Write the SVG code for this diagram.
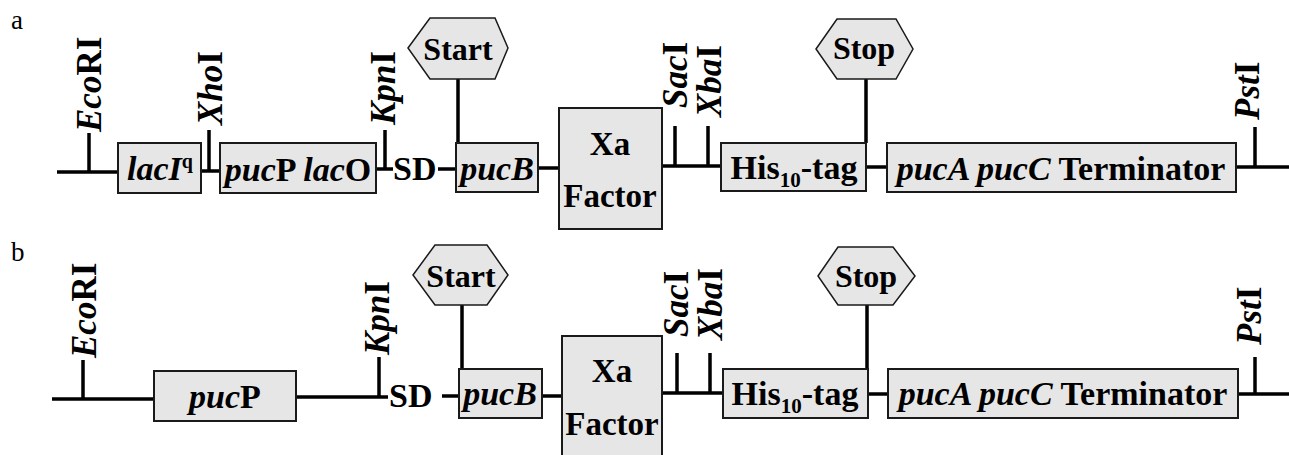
<svg xmlns="http://www.w3.org/2000/svg" width="1289" height="455" viewBox="0 0 1289 455" font-family="'Liberation Serif', 'DejaVu Serif', serif">
<style>
text{font-family:'Liberation Serif','DejaVu Serif',serif;font-weight:bold;fill:#000}
.t{font-size:34px}
.r{font-size:35px}
.x{font-size:33px;text-anchor:middle}
.m{text-anchor:middle}
.i{font-style:italic}
.hx{font-size:32px;text-anchor:middle}
text.pl{font-size:27px;font-weight:normal}
.box{fill:#e6e6e6;stroke:#1a1a1a;stroke-width:2}
.hex{fill:#e6e6e6;stroke:#1a1a1a;stroke-width:1.5}
.ln{stroke:#000;stroke-width:3.5;fill:none}
</style>
<rect width="1289" height="455" fill="#fff"/>
<text class="pl" x="11" y="29">a</text>
<text class="pl" x="11" y="261">b</text>

<g id="connectors">
<path class="ln" d="M57,172H118 M89,172V133 M201,171H220 M209,171V130 M376,169H393 M385,169V130 M438,169H456 M538,168H559 M662,166H721 M675,166V126 M708,166V126 M866,167H887 M1236,167H1289 M1255,167V127 M458,79V143 M866,79V143"/>
<path class="ln" d="M52,399H154 M83,399V360 M296,397H388 M379,397V357 M442,396H459 M542,396H562 M662,393H723 M677,393V353 M710,393V353 M868,394H888 M1238,394H1289 M1255,394V357 M462,305V369 M867,305V369"/>
</g>

<g id="a-EcoRI"><text class="r" transform="translate(101,132) rotate(-90)"><tspan class="i">Eco</tspan>RI</text></g>
<g id="a-XhoI"><text class="r" transform="translate(222,125) rotate(-90)"><tspan class="i">Xho</tspan>I</text></g>
<g id="a-KpnI"><text class="r" transform="translate(395,125) rotate(-90)"><tspan class="i">Kpn</tspan>I</text></g>
<g id="a-SacI"><text class="r" transform="translate(687,108) rotate(-90)"><tspan class="i">Sac</tspan>I</text></g>
<g id="a-XbaI"><text class="r" transform="translate(721,117) rotate(-90)"><tspan class="i">Xba</tspan>I</text></g>
<g id="a-PstI"><text class="r" transform="translate(1259,120) rotate(-90)"><tspan class="i">Pst</tspan>I</text></g>

<g id="a-lacIq"><rect class="box" x="118" y="143" width="83" height="50"/><text class="t m" x="160" y="180"><tspan class="i">lacI</tspan><tspan font-size="20" dy="-12">q</tspan></text></g>
<g id="a-pucPlacO"><rect class="box" x="220" y="143" width="156" height="50"/><text class="t m" x="298" y="181"><tspan class="i">puc</tspan>P <tspan class="i">lac</tspan>O</text></g>
<g id="a-SD"><text class="t" x="393" y="180">SD</text></g>
<g id="a-pucB"><rect class="box" x="456" y="143" width="82" height="49"/><text class="t m i" x="497" y="180">pucB</text></g>
<g id="a-Xa"><rect class="box" x="559" y="108" width="103" height="121"/><text class="x" x="610" y="155">Xa</text><text class="x" x="610" y="207">Factor</text></g>
<g id="a-His"><rect class="box" x="721" y="143" width="145" height="48"/><text class="t m" x="794" y="179">His<tspan font-size="21" dy="8">10</tspan><tspan dy="-8">-tag</tspan></text></g>
<g id="a-pucA"><rect class="box" x="887" y="143" width="349" height="49"/><text class="t m" x="1061" y="180"><tspan class="i">pucA pucC</tspan> Terminator</text></g>
<g id="a-Start"><polygon class="hex" points="408,48 430,18 495,18 508,48 495,79 430,79"/><text class="hx" x="458" y="60">Start</text></g>
<g id="a-Stop"><polygon class="hex" points="816,49 837,19 896,19 913,49 896,79 837,79"/><text class="hx" x="864" y="59">Stop</text></g>

<g id="b-EcoRI"><text class="r" transform="translate(96,358) rotate(-90)"><tspan class="i">Eco</tspan>RI</text></g>
<g id="b-KpnI"><text class="r" transform="translate(389,355) rotate(-90)"><tspan class="i">Kpn</tspan>I</text></g>
<g id="b-SacI"><text class="r" transform="translate(688,337) rotate(-90)"><tspan class="i">Sac</tspan>I</text></g>
<g id="b-XbaI"><text class="r" transform="translate(722,340) rotate(-90)"><tspan class="i">Xba</tspan>I</text></g>
<g id="b-PstI"><text class="r" transform="translate(1261,345) rotate(-90)"><tspan class="i">Pst</tspan>I</text></g>

<g id="b-pucP"><rect class="box" x="154" y="371" width="142" height="50"/><text class="t m" x="225" y="408"><tspan class="i">puc</tspan>P</text></g>
<g id="b-SD"><text class="t" x="389" y="407">SD</text></g>
<g id="b-pucB"><rect class="box" x="459" y="369" width="83" height="49"/><text class="t m i" x="500" y="405">pucB</text></g>
<g id="b-Xa"><rect class="box" x="562" y="336" width="100" height="130"/><text class="x" x="612" y="382">Xa</text><text class="x" x="612" y="435">Factor</text></g>
<g id="b-His"><rect class="box" x="723" y="369" width="145" height="49"/><text class="t m" x="795" y="405">His<tspan font-size="21" dy="8">10</tspan><tspan dy="-8">-tag</tspan></text></g>
<g id="b-pucA"><rect class="box" x="888" y="369" width="350" height="49"/><text class="t m" x="1063" y="405"><tspan class="i">pucA pucC</tspan> Terminator</text></g>
<g id="b-Start"><polygon class="hex" points="413,275 435,245 487,245 508,275 487,305 435,305"/><text class="hx" x="461" y="287">Start</text></g>
<g id="b-Stop"><polygon class="hex" points="818,276 838,247 893,247 915,276 893,305 838,305"/><text class="hx" x="866" y="287">Stop</text></g>
</svg>
